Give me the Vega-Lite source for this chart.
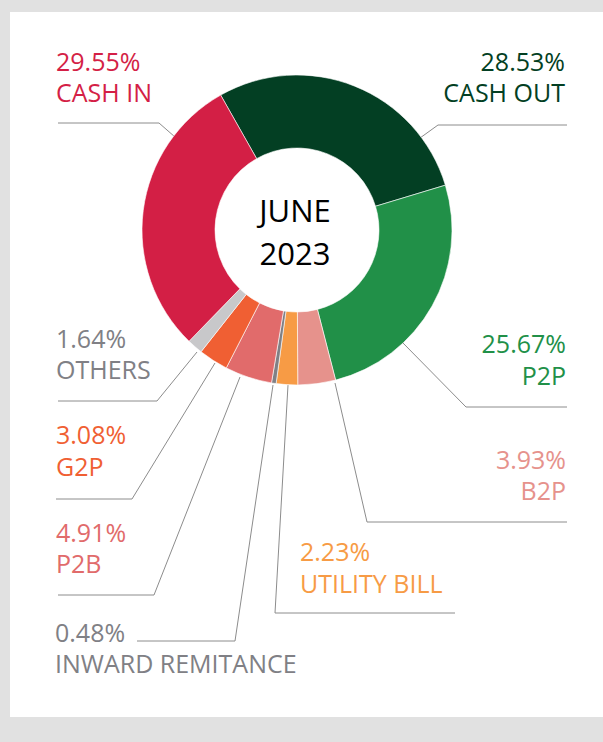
{
  "$schema": "https://vega.github.io/schema/vega-lite/v6.json",
  "width": 603,
  "height": 742,
  "autosize": {"type": "fit", "contains": "padding"},
  "padding": {"left": 10, "top": 12, "right": 0, "bottom": 25},
  "background": "#e1e1e1",
  "config": {"view": {"fill": "white", "stroke": null}, "font": "Open Sans"},
  "datasets": {
    "slices": [
      {"cat": "CASH OUT", "pct": 28.53, "ord": 1},
      {"cat": "P2P", "pct": 25.67, "ord": 2},
      {"cat": "B2P", "pct": 3.93, "ord": 3},
      {"cat": "UTILITY BILL", "pct": 2.23, "ord": 4},
      {"cat": "INWARD REMITANCE", "pct": 0.48, "ord": 5},
      {"cat": "P2B", "pct": 4.91, "ord": 6},
      {"cat": "G2P", "pct": 3.08, "ord": 7},
      {"cat": "OTHERS", "pct": 1.64, "ord": 8},
      {"cat": "CASH IN", "pct": 29.55, "ord": 9}
    ],
    "labels": [
      {"cat": "CASH IN", "t": "29.55%", "lx": -241, "ly": -159, "side": "left"},
      {"cat": "CASH IN", "t": "CASH IN", "lx": -241, "ly": -128, "side": "left"},
      {"cat": "CASH OUT", "t": "28.53%", "lx": 268, "ly": -159, "side": "right"},
      {"cat": "CASH OUT", "t": "CASH OUT", "lx": 268, "ly": -128, "side": "right"},
      {"cat": "OTHERS", "t": "1.64%", "lx": -241, "ly": 118, "side": "left"},
      {"cat": "OTHERS", "t": "OTHERS", "lx": -241, "ly": 149, "side": "left"},
      {"cat": "P2P", "t": "25.67%", "lx": 269, "ly": 123, "side": "right"},
      {"cat": "P2P", "t": "P2P", "lx": 269, "ly": 155, "side": "right"},
      {"cat": "G2P", "t": "3.08%", "lx": -241, "ly": 214, "side": "left"},
      {"cat": "G2P", "t": "G2P", "lx": -241, "ly": 246, "side": "left"},
      {"cat": "P2B", "t": "4.91%", "lx": -241, "ly": 312, "side": "left"},
      {"cat": "P2B", "t": "P2B", "lx": -241, "ly": 343, "side": "left"},
      {"cat": "UTILITY BILL", "t": "2.23%", "lx": 3, "ly": 331, "side": "left"},
      {"cat": "UTILITY BILL", "t": "UTILITY BILL", "lx": 3, "ly": 363, "side": "left"},
      {"cat": "B2P", "t": "3.93%", "lx": 269, "ly": 239, "side": "right"},
      {"cat": "B2P", "t": "B2P", "lx": 269, "ly": 270, "side": "right"},
      {"cat": "INWARD REMITANCE", "t": "0.48%", "lx": -242, "ly": 412, "side": "left"},
      {"cat": "INWARD REMITANCE", "t": "INWARD REMITANCE", "lx": -242, "ly": 443, "side": "left"}
    ],
    "leaders": [
      {"cat": "CASH IN", "i": 1, "lx": -239, "ly": -107},
      {"cat": "CASH IN", "i": 2, "lx": -138, "ly": -107},
      {"cat": "CASH IN", "i": 3, "lx": -122, "ly": -93},
      {"cat": "CASH OUT", "i": 1, "lx": 270, "ly": -105},
      {"cat": "CASH OUT", "i": 2, "lx": 141, "ly": -105},
      {"cat": "CASH OUT", "i": 3, "lx": 123, "ly": -92},
      {"cat": "OTHERS", "i": 1, "lx": -239, "ly": 171},
      {"cat": "OTHERS", "i": 2, "lx": -140, "ly": 171},
      {"cat": "OTHERS", "i": 3, "lx": -100, "ly": 122},
      {"cat": "P2P", "i": 1, "lx": 270, "ly": 177},
      {"cat": "P2P", "i": 2, "lx": 169, "ly": 177},
      {"cat": "P2P", "i": 3, "lx": 106, "ly": 113},
      {"cat": "G2P", "i": 1, "lx": -241, "ly": 269},
      {"cat": "G2P", "i": 2, "lx": -165, "ly": 269},
      {"cat": "G2P", "i": 3, "lx": -82, "ly": 133},
      {"cat": "P2B", "i": 1, "lx": -239, "ly": 365},
      {"cat": "P2B", "i": 2, "lx": -143, "ly": 365},
      {"cat": "P2B", "i": 3, "lx": -57, "ly": 147},
      {"cat": "INWARD REMITANCE", "i": 1, "lx": -160, "ly": 411},
      {"cat": "INWARD REMITANCE", "i": 2, "lx": -62, "ly": 411},
      {"cat": "INWARD REMITANCE", "i": 3, "lx": -24, "ly": 155},
      {"cat": "UTILITY BILL", "i": 1, "lx": 158, "ly": 383},
      {"cat": "UTILITY BILL", "i": 2, "lx": -22, "ly": 383},
      {"cat": "UTILITY BILL", "i": 3, "lx": -9, "ly": 155},
      {"cat": "B2P", "i": 1, "lx": 270, "ly": 292},
      {"cat": "B2P", "i": 2, "lx": 70, "ly": 292},
      {"cat": "B2P", "i": 3, "lx": 38, "ly": 153}
    ]
  },
  "layer": [
    {
      "data": {"name": "leaders"},
      "mark": {"type": "line", "color": "#8c8c8c", "strokeWidth": 1, "interpolate": "linear"},
      "encoding": {
        "x": {"field": "lx", "type": "quantitative", "axis": null, "scale": {"domain": [-287, 306], "nice": false, "zero": false}},
        "y": {"field": "ly", "type": "quantitative", "axis": null, "scale": {"domain": [-218, 487], "nice": false, "zero": false, "reverse": true}},
        "detail": {"field": "cat"},
        "order": {"field": "i", "type": "quantitative"}
      }
    },
    {
      "data": {"name": "slices"},
      "mark": {"type": "arc", "innerRadius": 82, "outerRadius": 155, "stroke": "white", "strokeWidth": 0.6},
      "encoding": {
        "x": {"datum": 0, "type": "quantitative", "axis": null},
        "y": {"datum": 0, "type": "quantitative", "axis": null},
        "theta": {"field": "pct", "type": "quantitative", "stack": true, "scale": {"range": [-0.5149, 5.7683]}},
        "order": {"field": "ord", "type": "quantitative"},
        "color": {
          "field": "cat", "type": "nominal", "legend": null,
          "scale": {
            "domain": ["CASH OUT", "P2P", "B2P", "UTILITY BILL", "INWARD REMITANCE", "P2B", "G2P", "OTHERS", "CASH IN"],
            "range": ["#033f23", "#219048", "#e6928c", "#f79b45", "#808085", "#e16b6b", "#f05f33", "#c8c8ca", "#d31f45"]
          }
        }
      }
    },
    {
      "data": {"name": "labels"},
      "transform": [{"filter": "datum.side === 'left'"}],
      "mark": {"type": "text", "align": "left", "baseline": "alphabetic", "fontSize": 25, "font": "Open Sans"},
      "encoding": {
        "x": {"field": "lx", "type": "quantitative", "axis": null},
        "y": {"field": "ly", "type": "quantitative", "axis": null},
        "text": {"field": "t"},
        "color": {
          "field": "cat", "type": "nominal", "legend": null,
          "scale": {
            "domain": ["CASH OUT", "P2P", "B2P", "UTILITY BILL", "INWARD REMITANCE", "P2B", "G2P", "OTHERS", "CASH IN"],
            "range": ["#033f23", "#219048", "#e6928c", "#f79b45", "#808085", "#e16b6b", "#f05f33", "#808085", "#d41f46"]
          }
        }
      }
    },
    {
      "data": {"name": "labels"},
      "transform": [{"filter": "datum.side === 'right'"}],
      "mark": {"type": "text", "align": "right", "baseline": "alphabetic", "fontSize": 25, "font": "Open Sans"},
      "encoding": {
        "x": {"field": "lx", "type": "quantitative", "axis": null},
        "y": {"field": "ly", "type": "quantitative", "axis": null},
        "text": {"field": "t"},
        "color": {
          "field": "cat", "type": "nominal", "legend": null,
          "scale": {
            "domain": ["CASH OUT", "P2P", "B2P", "UTILITY BILL", "INWARD REMITANCE", "P2B", "G2P", "OTHERS", "CASH IN"],
            "range": ["#033f23", "#219048", "#e6928c", "#f79b45", "#808085", "#e16b6b", "#f05f33", "#808085", "#d41f46"]
          }
        }
      }
    },
    {
      "data": {"values": [{"t": "JUNE"}]},
      "mark": {"type": "text", "align": "center", "baseline": "alphabetic", "fontSize": 31, "color": "#000000", "font": "Open Sans"},
      "encoding": {
        "x": {"datum": -2, "type": "quantitative", "axis": null},
        "y": {"datum": -8, "type": "quantitative", "axis": null},
        "text": {"field": "t"}
      }
    },
    {
      "data": {"values": [{"t": "2023"}]},
      "mark": {"type": "text", "align": "center", "baseline": "alphabetic", "fontSize": 31, "color": "#000000", "font": "Open Sans"},
      "encoding": {
        "x": {"datum": -2, "type": "quantitative", "axis": null},
        "y": {"datum": 35, "type": "quantitative", "axis": null},
        "text": {"field": "t"}
      }
    }
  ],
  "resolve": {"scale": {"color": "independent"}}
}
